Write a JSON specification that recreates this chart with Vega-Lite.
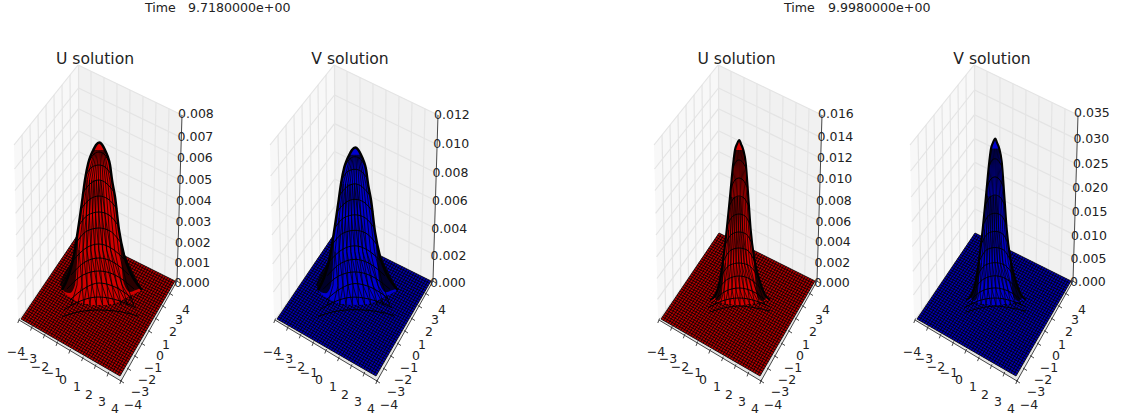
{"$schema":"https://vega.github.io/schema/vega-lite/v6.json","padding":0,"background":"white","bounds":"flush","spacing":0,"config":{"view":{"stroke":null},"text":{"font":"DejaVu Sans","fill":"#222"}},
"datasets":{
"box":[{"p":"a","h":14,"top":145,"bot":145},{"p":"a","h":18,"top":140,"bot":320},{"p":"a","h":78.5,"top":65,"bot":233},{"p":"b","h":78.5,"top":65,"bot":233},{"p":"b","h":177,"top":112.6,"bot":281},{"p":"b","h":182,"top":115,"bot":115},{"p":"c","h":18,"top":320,"bot":320},{"p":"c","h":79,"top":233,"bot":356},{"p":"c","h":121,"top":253.6,"bot":381},{"p":"c","h":177,"top":281,"bot":281}],
"base":[{"h":21,"top":319,"bot":319},{"h":79,"top":233,"bot":352.4},{"h":120,"top":253.5,"bot":376},{"h":175,"top":281,"bot":281}],
"mesh":[{"h":21,"v":319,"h2":120,"v2":376},{"h":22.45,"v":316.85,"h2":121.38,"v2":373.63},{"h":23.9,"v":314.7,"h2":122.75,"v2":371.25},{"h":25.35,"v":312.55,"h2":124.13,"v2":368.88},{"h":26.8,"v":310.4,"h2":125.5,"v2":366.5},{"h":28.25,"v":308.25,"h2":126.88,"v2":364.13},{"h":29.7,"v":306.1,"h2":128.25,"v2":361.75},{"h":31.15,"v":303.95,"h2":129.63,"v2":359.38},{"h":32.6,"v":301.8,"h2":131,"v2":357},{"h":34.05,"v":299.65,"h2":132.38,"v2":354.63},{"h":35.5,"v":297.5,"h2":133.75,"v2":352.25},{"h":36.95,"v":295.35,"h2":135.13,"v2":349.88},{"h":38.4,"v":293.2,"h2":136.5,"v2":347.5},{"h":39.85,"v":291.05,"h2":137.88,"v2":345.13},{"h":41.3,"v":288.9,"h2":139.25,"v2":342.75},{"h":42.75,"v":286.75,"h2":140.63,"v2":340.38},{"h":44.2,"v":284.6,"h2":142,"v2":338},{"h":45.65,"v":282.45,"h2":143.38,"v2":335.63},{"h":47.1,"v":280.3,"h2":144.75,"v2":333.25},{"h":48.55,"v":278.15,"h2":146.13,"v2":330.88},{"h":50,"v":276,"h2":147.5,"v2":328.5},{"h":51.45,"v":273.85,"h2":148.88,"v2":326.13},{"h":52.9,"v":271.7,"h2":150.25,"v2":323.75},{"h":54.35,"v":269.55,"h2":151.63,"v2":321.38},{"h":55.8,"v":267.4,"h2":153,"v2":319},{"h":57.25,"v":265.25,"h2":154.38,"v2":316.63},{"h":58.7,"v":263.1,"h2":155.75,"v2":314.25},{"h":60.15,"v":260.95,"h2":157.13,"v2":311.88},{"h":61.6,"v":258.8,"h2":158.5,"v2":309.5},{"h":63.05,"v":256.65,"h2":159.88,"v2":307.13},{"h":64.5,"v":254.5,"h2":161.25,"v2":304.75},{"h":65.95,"v":252.35,"h2":162.63,"v2":302.38},{"h":67.4,"v":250.2,"h2":164,"v2":300},{"h":68.85,"v":248.05,"h2":165.38,"v2":297.63},{"h":70.3,"v":245.9,"h2":166.75,"v2":295.25},{"h":71.75,"v":243.75,"h2":168.13,"v2":292.88},{"h":73.2,"v":241.6,"h2":169.5,"v2":290.5},{"h":74.65,"v":239.45,"h2":170.88,"v2":288.13},{"h":76.1,"v":237.3,"h2":172.25,"v2":285.75},{"h":77.55,"v":235.15,"h2":173.63,"v2":283.38},{"h":79,"v":233,"h2":175,"v2":281},
{"h":21,"v":319,"h2":79,"v2":233},{"h":23.48,"v":320.43,"h2":81.4,"v2":234.2},{"h":25.95,"v":321.85,"h2":83.8,"v2":235.4},{"h":28.43,"v":323.28,"h2":86.2,"v2":236.6},{"h":30.9,"v":324.7,"h2":88.6,"v2":237.8},{"h":33.38,"v":326.13,"h2":91,"v2":239},{"h":35.85,"v":327.55,"h2":93.4,"v2":240.2},{"h":38.33,"v":328.98,"h2":95.8,"v2":241.4},{"h":40.8,"v":330.4,"h2":98.2,"v2":242.6},{"h":43.28,"v":331.83,"h2":100.6,"v2":243.8},{"h":45.75,"v":333.25,"h2":103,"v2":245},{"h":48.23,"v":334.68,"h2":105.4,"v2":246.2},{"h":50.7,"v":336.1,"h2":107.8,"v2":247.4},{"h":53.18,"v":337.53,"h2":110.2,"v2":248.6},{"h":55.65,"v":338.95,"h2":112.6,"v2":249.8},{"h":58.13,"v":340.38,"h2":115,"v2":251},{"h":60.6,"v":341.8,"h2":117.4,"v2":252.2},{"h":63.08,"v":343.23,"h2":119.8,"v2":253.4},{"h":65.55,"v":344.65,"h2":122.2,"v2":254.6},{"h":68.03,"v":346.08,"h2":124.6,"v2":255.8},{"h":70.5,"v":347.5,"h2":127,"v2":257},{"h":72.98,"v":348.93,"h2":129.4,"v2":258.2},{"h":75.45,"v":350.35,"h2":131.8,"v2":259.4},{"h":77.93,"v":351.78,"h2":134.2,"v2":260.6},{"h":80.4,"v":353.2,"h2":136.6,"v2":261.8},{"h":82.88,"v":354.63,"h2":139,"v2":263},{"h":85.35,"v":356.05,"h2":141.4,"v2":264.2},{"h":87.83,"v":357.48,"h2":143.8,"v2":265.4},{"h":90.3,"v":358.9,"h2":146.2,"v2":266.6},{"h":92.78,"v":360.33,"h2":148.6,"v2":267.8},{"h":95.25,"v":361.75,"h2":151,"v2":269},{"h":97.73,"v":363.18,"h2":153.4,"v2":270.2},{"h":100.2,"v":364.6,"h2":155.8,"v2":271.4},{"h":102.68,"v":366.03,"h2":158.2,"v2":272.6},{"h":105.15,"v":367.45,"h2":160.6,"v2":273.8},{"h":107.63,"v":368.88,"h2":163,"v2":275},{"h":110.1,"v":370.3,"h2":165.4,"v2":276.2},{"h":112.58,"v":371.73,"h2":167.8,"v2":277.4},{"h":115.05,"v":373.15,"h2":170.2,"v2":278.6},{"h":117.53,"v":374.58,"h2":172.6,"v2":279.8},{"h":120,"v":376,"h2":175,"v2":281}],
"wall":[{"h":78.5,"v":65,"h2":79,"v2":233},{"h":91.25,"v":239,"h2":91,"v2":71.25},{"h":103.5,"v":245,"h2":104,"v2":77.5},{"h":115.75,"v":251,"h2":117,"v2":83.75},{"h":128,"v":257,"h2":130,"v2":90},{"h":140.25,"v":263,"h2":143,"v2":96.25},{"h":152.5,"v":269,"h2":156,"v2":102.5},{"h":164.75,"v":275,"h2":169,"v2":108.75},{"h":25.6,"v":309.1,"h2":22,"v2":135},{"h":33.25,"v":298.25,"h2":30,"v2":125},{"h":40.9,"v":287.4,"h2":38,"v2":115},{"h":48.5,"v":276.5,"h2":46,"v2":105},{"h":56.1,"v":265.6,"h2":54,"v2":95},{"h":63.75,"v":254.75,"h2":62,"v2":85},{"h":71.4,"v":243.9,"h2":70,"v2":75}],
"axes":[{"h":19,"v":320,"h2":121,"v2":381},{"h":121,"v":381,"h2":177,"v2":281},{"h":177,"v":281,"h2":182,"v2":115},{"h":19.5,"v":318.5,"h2":17.8,"v2":323},{"h":32.25,"v":326.1,"h2":30.55,"v2":330.6},{"h":45,"v":333.8,"h2":43.3,"v2":338.3},{"h":57.75,"v":341.4,"h2":56.05,"v2":345.9},{"h":70.5,"v":349,"h2":68.8,"v2":353.5},{"h":83.25,"v":356.6,"h2":81.55,"v2":361.1},{"h":96,"v":364.3,"h2":94.3,"v2":368.8},{"h":108.75,"v":371.9,"h2":107.05,"v2":376.4},{"h":121.5,"v":379.5,"h2":119.8,"v2":384},{"h":120,"v":380.5,"h2":124,"v2":383},{"h":127,"v":368,"h2":131,"v2":370.5},{"h":134,"v":355.5,"h2":138,"v2":358},{"h":141,"v":343,"h2":145,"v2":345.5},{"h":148,"v":330.5,"h2":152,"v2":333},{"h":155,"v":318,"h2":159,"v2":320.5},{"h":162,"v":305.5,"h2":166,"v2":308},{"h":169,"v":293,"h2":173,"v2":295.5},{"h":176,"v":280.5,"h2":180,"v2":283}],
"xy":[{"t":"−4","h":16,"v":352},{"t":"−3","h":28,"v":359},{"t":"−2","h":40,"v":367},{"t":"−1","h":53,"v":373},{"t":"0","h":63,"v":380},{"t":"1","h":77,"v":387},{"t":"2","h":89,"v":395},{"t":"3","h":102,"v":402},{"t":"4","h":115,"v":409},{"t":"−4","h":133,"v":405},{"t":"−3","h":140,"v":392},{"t":"−2","h":147,"v":380},{"t":"−1","h":153,"v":368},{"t":"0","h":160,"v":356},{"t":"1","h":166,"v":345},{"t":"2","h":173,"v":332},{"t":"3","h":179,"v":320},{"t":"4","h":186,"v":310}],
"zgA":[{"h":14,"v":145,"h2":78,"v2":65},{"h":78,"v":65,"h2":182,"v2":115},{"h":14.5,"v":169,"h2":78.5,"v2":88},{"h":78.5,"v":88,"h2":181.3,"v2":137.6},{"h":15,"v":190.5,"h2":78.5,"v2":108.7},{"h":78.5,"v":108.7,"h2":180.7,"v2":158.2},{"h":15.6,"v":213.4,"h2":78.5,"v2":130.7},{"h":78.5,"v":130.7,"h2":180,"v2":180},{"h":16,"v":235,"h2":78.5,"v2":151.5},{"h":78.5,"v":151.5,"h2":179.4,"v2":200.5},{"h":16.6,"v":256.8,"h2":78.7,"v2":172.4},{"h":78.7,"v":172.4,"h2":178.8,"v2":221},{"h":17,"v":278.5,"h2":78.8,"v2":193.2},{"h":78.8,"v":193.2,"h2":178.2,"v2":241.7},{"h":17.5,"v":299.4,"h2":79,"v2":213},{"h":79,"v":213,"h2":177.6,"v2":261.4}],
"zgB":[{"h":14,"v":145,"h2":78,"v2":65},{"h":78,"v":65,"h2":182,"v2":115},{"h":14.7,"v":176,"h2":78.5,"v2":95},{"h":78.5,"v":95,"h2":181,"v2":144.5},{"h":15.4,"v":206,"h2":78.5,"v2":123.6},{"h":78.5,"v":123.6,"h2":180.3,"v2":173},{"h":16,"v":235,"h2":78.5,"v2":151.5},{"h":78.5,"v":151.5,"h2":179.4,"v2":200.5},{"h":16.7,"v":264,"h2":78.7,"v2":179},{"h":78.7,"v":179,"h2":178.6,"v2":228},{"h":17.4,"v":292,"h2":79,"v2":206},{"h":79,"v":206,"h2":177.8,"v2":254.4}],
"zgD":[{"h":14,"v":145,"h2":78,"v2":65},{"h":78,"v":65,"h2":182,"v2":115},{"h":14.6,"v":171,"h2":78.5,"v2":90},{"h":78.5,"v":90,"h2":181.3,"v2":139.6},{"h":15.2,"v":197,"h2":78.5,"v2":114.7},{"h":78.5,"v":114.7,"h2":180.5,"v2":164},{"h":15.8,"v":221.6,"h2":78.5,"v2":138.6},{"h":78.5,"v":138.6,"h2":179.8,"v2":187.7},{"h":16.3,"v":246.5,"h2":78.7,"v2":162.4},{"h":78.7,"v":162.4,"h2":179,"v2":211.3},{"h":16.9,"v":271.4,"h2":78.7,"v2":186.3},{"h":78.7,"v":186.3,"h2":178.4,"v2":234.9},{"h":17.4,"v":295,"h2":79,"v2":209},{"h":79,"v":209,"h2":177.7,"v2":257.4}],
"silA":[{"h":62,"top":290,"bot":290},{"h":68,"top":277,"bot":296},{"h":73,"top":260,"bot":299},{"h":78,"top":230,"bot":302},{"h":82.7,"top":197,"bot":303},{"h":85,"top":180,"bot":304},{"h":88.3,"top":163,"bot":304},{"h":91,"top":155,"bot":305},{"h":93.3,"top":150,"bot":305},{"h":96,"top":145,"bot":305},{"h":99.3,"top":142.5,"bot":305},{"h":102,"top":144.5,"bot":305},{"h":105,"top":150,"bot":305},{"h":107.5,"top":156,"bot":305},{"h":110,"top":165,"bot":304},{"h":112,"top":180,"bot":304},{"h":115,"top":197,"bot":303},{"h":119,"top":230,"bot":302},{"h":124,"top":255,"bot":299},{"h":130,"top":272,"bot":296},{"h":138,"top":285,"bot":292},{"h":142,"top":290,"bot":290}],
"silC":[{"h":70,"top":300,"bot":300},{"h":75,"top":296,"bot":301},{"h":80,"top":280,"bot":302},{"h":82.7,"top":263,"bot":303},{"h":86.7,"top":230,"bot":304},{"h":90,"top":197,"bot":304},{"h":93.3,"top":163,"bot":305},{"h":95,"top":150,"bot":305},{"h":97,"top":144,"bot":305},{"h":99.3,"top":140,"bot":305},{"h":101,"top":144,"bot":305},{"h":103.3,"top":150,"bot":305},{"h":105.7,"top":163,"bot":305},{"h":108.3,"top":197,"bot":304},{"h":110.7,"top":230,"bot":304},{"h":115,"top":263,"bot":303},{"h":119.3,"top":280,"bot":302},{"h":125,"top":295,"bot":301},{"h":130,"top":300,"bot":300}],
"fanA":[{"id":1,"h":94.5,"v":150},{"id":1,"h":87.2,"v":180},{"id":1,"h":83.1,"v":215},{"id":1,"h":79,"v":250},{"id":1,"h":77,"v":285},{"id":1,"h":71.2,"v":305},{"id":2,"h":95.4,"v":150},{"id":2,"h":89.5,"v":180},{"id":2,"h":86.3,"v":215},{"id":2,"h":83,"v":250},{"id":2,"h":82,"v":285},{"id":2,"h":77.5,"v":305},{"id":3,"h":96.4,"v":150},{"id":3,"h":91.8,"v":180},{"id":3,"h":89.4,"v":215},{"id":3,"h":86.9,"v":250},{"id":3,"h":87,"v":285},{"id":3,"h":83.8,"v":305},{"id":4,"h":97.3,"v":150},{"id":4,"h":94,"v":180},{"id":4,"h":92.5,"v":215},{"id":4,"h":90.8,"v":250},{"id":4,"h":92,"v":285},{"id":4,"h":90,"v":305},{"id":5,"h":98.3,"v":150},{"id":5,"h":96.3,"v":180},{"id":5,"h":95.6,"v":215},{"id":5,"h":94.8,"v":250},{"id":5,"h":97,"v":285},{"id":5,"h":96.3,"v":305},{"id":6,"h":99.3,"v":150},{"id":6,"h":98.5,"v":180},{"id":6,"h":98.8,"v":215},{"id":6,"h":98.8,"v":250},{"id":6,"h":102,"v":285},{"id":6,"h":102.5,"v":305},{"id":7,"h":100.2,"v":150},{"id":7,"h":100.7,"v":180},{"id":7,"h":101.9,"v":215},{"id":7,"h":102.7,"v":250},{"id":7,"h":107,"v":285},{"id":7,"h":108.7,"v":305},{"id":8,"h":101.2,"v":150},{"id":8,"h":103,"v":180},{"id":8,"h":105,"v":215},{"id":8,"h":106.7,"v":250},{"id":8,"h":112,"v":285},{"id":8,"h":115,"v":305},{"id":9,"h":102.1,"v":150},{"id":9,"h":105.3,"v":180},{"id":9,"h":108.1,"v":215},{"id":9,"h":110.6,"v":250},{"id":9,"h":117,"v":285},{"id":9,"h":121.3,"v":305},{"id":10,"h":103.1,"v":150},{"id":10,"h":107.5,"v":180},{"id":10,"h":111.2,"v":215},{"id":10,"h":114.6,"v":250},{"id":10,"h":122,"v":285},{"id":10,"h":127.5,"v":305},{"id":11,"h":104,"v":150},{"id":11,"h":109.8,"v":180},{"id":11,"h":114.4,"v":215},{"id":11,"h":118.5,"v":250},{"id":11,"h":127,"v":285},{"id":11,"h":133.8,"v":305},
{"id":21,"h":83.1,"v":215},{"id":21,"h":83,"v":250},{"id":21,"h":87,"v":285},{"id":21,"h":90,"v":305},{"id":22,"h":87.2,"v":180},{"id":22,"h":86.3,"v":215},{"id":22,"h":86.9,"v":250},{"id":22,"h":92,"v":285},{"id":22,"h":96.3,"v":305},{"id":23,"h":89.5,"v":180},{"id":23,"h":89.4,"v":215},{"id":23,"h":90.8,"v":250},{"id":23,"h":97,"v":285},{"id":23,"h":102.5,"v":305},{"id":24,"h":91.8,"v":180},{"id":24,"h":92.5,"v":215},{"id":24,"h":94.8,"v":250},{"id":24,"h":102,"v":285},{"id":24,"h":108.7,"v":305},{"id":25,"h":94,"v":180},{"id":25,"h":95.6,"v":215},{"id":25,"h":98.8,"v":250},{"id":25,"h":107,"v":285},{"id":25,"h":115,"v":305},{"id":26,"h":96.3,"v":180},{"id":26,"h":98.8,"v":215},{"id":26,"h":102.7,"v":250},{"id":26,"h":112,"v":285},{"id":26,"h":121.3,"v":305},{"id":27,"h":98.5,"v":180},{"id":27,"h":101.9,"v":215},{"id":27,"h":106.7,"v":250},{"id":27,"h":117,"v":285},{"id":27,"h":127.5,"v":305},{"id":28,"h":100.7,"v":180},{"id":28,"h":105,"v":215},{"id":28,"h":110.6,"v":250},{"id":28,"h":122,"v":285},{"id":28,"h":133.8,"v":305},{"id":29,"h":79,"v":250},{"id":29,"h":82,"v":285},{"id":29,"h":83.8,"v":305}],
"fanC":[{"id":1,"h":95.7,"v":150},{"id":1,"h":91.5,"v":197},{"id":1,"h":88.7,"v":230},{"id":1,"h":85.4,"v":263},{"id":1,"h":80,"v":290},{"id":1,"h":75,"v":305},{"id":2,"h":96.4,"v":150},{"id":2,"h":93.1,"v":197},{"id":2,"h":90.7,"v":230},{"id":2,"h":88.1,"v":263},{"id":2,"h":84,"v":290},{"id":2,"h":80,"v":305},{"id":3,"h":97.1,"v":150},{"id":3,"h":94.6,"v":197},{"id":3,"h":92.7,"v":230},{"id":3,"h":90.8,"v":263},{"id":3,"h":88,"v":290},{"id":3,"h":85,"v":305},{"id":4,"h":97.8,"v":150},{"id":4,"h":96.1,"v":197},{"id":4,"h":94.7,"v":230},{"id":4,"h":93.5,"v":263},{"id":4,"h":92,"v":290},{"id":4,"h":90,"v":305},{"id":5,"h":98.5,"v":150},{"id":5,"h":97.6,"v":197},{"id":5,"h":96.7,"v":230},{"id":5,"h":96.2,"v":263},{"id":5,"h":96,"v":290},{"id":5,"h":95,"v":305},{"id":6,"h":99.2,"v":150},{"id":6,"h":99.2,"v":197},{"id":6,"h":98.7,"v":230},{"id":6,"h":98.9,"v":263},{"id":6,"h":100,"v":290},{"id":6,"h":100,"v":305},{"id":7,"h":99.8,"v":150},{"id":7,"h":100.7,"v":197},{"id":7,"h":100.7,"v":230},{"id":7,"h":101.5,"v":263},{"id":7,"h":104,"v":290},{"id":7,"h":105,"v":305},{"id":8,"h":100.5,"v":150},{"id":8,"h":102.2,"v":197},{"id":8,"h":102.7,"v":230},{"id":8,"h":104.2,"v":263},{"id":8,"h":108,"v":290},{"id":8,"h":110,"v":305},{"id":9,"h":101.2,"v":150},{"id":9,"h":103.7,"v":197},{"id":9,"h":104.7,"v":230},{"id":9,"h":106.9,"v":263},{"id":9,"h":112,"v":290},{"id":9,"h":115,"v":305},{"id":10,"h":101.9,"v":150},{"id":10,"h":105.2,"v":197},{"id":10,"h":106.7,"v":230},{"id":10,"h":109.6,"v":263},{"id":10,"h":116,"v":290},{"id":10,"h":120,"v":305},{"id":11,"h":102.6,"v":150},{"id":11,"h":106.8,"v":197},{"id":11,"h":108.7,"v":230},{"id":11,"h":112.3,"v":263},{"id":11,"h":120,"v":290},{"id":11,"h":125,"v":305},
{"id":21,"h":91.5,"v":197},{"id":21,"h":90.7,"v":230},{"id":21,"h":90.8,"v":263},{"id":21,"h":92,"v":290},{"id":21,"h":95,"v":305},{"id":22,"h":93.1,"v":197},{"id":22,"h":92.7,"v":230},{"id":22,"h":93.5,"v":263},{"id":22,"h":96,"v":290},{"id":22,"h":100,"v":305},{"id":23,"h":94.6,"v":197},{"id":23,"h":94.7,"v":230},{"id":23,"h":96.2,"v":263},{"id":23,"h":100,"v":290},{"id":23,"h":105,"v":305},{"id":24,"h":96.1,"v":197},{"id":24,"h":96.7,"v":230},{"id":24,"h":98.9,"v":263},{"id":24,"h":104,"v":290},{"id":24,"h":110,"v":305},{"id":25,"h":97.6,"v":197},{"id":25,"h":98.7,"v":230},{"id":25,"h":101.5,"v":263},{"id":25,"h":108,"v":290},{"id":25,"h":115,"v":305},{"id":26,"h":99.2,"v":197},{"id":26,"h":100.7,"v":230},{"id":26,"h":104.2,"v":263},{"id":26,"h":112,"v":290},{"id":26,"h":120,"v":305},{"id":27,"h":100.7,"v":197},{"id":27,"h":102.7,"v":230},{"id":27,"h":106.9,"v":263},{"id":27,"h":116,"v":290},{"id":27,"h":125,"v":305},{"id":28,"h":88.7,"v":230},{"id":28,"h":88.1,"v":263},{"id":28,"h":88,"v":290},{"id":28,"h":90,"v":305},{"id":29,"h":85.4,"v":263},{"id":29,"h":84,"v":290},{"id":29,"h":85,"v":305}],
"arcA":[{"id":1,"h":90,"v":160},{"id":1,"h":94,"v":154},{"id":1,"h":99,"v":152},{"id":1,"h":104,"v":154},{"id":1,"h":108,"v":160},{"id":2,"h":86,"v":175},{"id":2,"h":92,"v":167},{"id":2,"h":99,"v":165},{"id":2,"h":105,"v":167},{"id":2,"h":111.5,"v":175},{"id":3,"h":83.5,"v":192},{"id":3,"h":91,"v":183},{"id":3,"h":99,"v":180},{"id":3,"h":106,"v":183},{"id":3,"h":114,"v":192},{"id":4,"h":81,"v":209},{"id":4,"h":90,"v":199},{"id":4,"h":99,"v":196},{"id":4,"h":108,"v":199},{"id":4,"h":117,"v":209},{"id":5,"h":78.5,"v":226},{"id":5,"h":88,"v":215},{"id":5,"h":99,"v":212},{"id":5,"h":109,"v":215},{"id":5,"h":118.5,"v":226},{"id":6,"h":76,"v":243},{"id":6,"h":87,"v":231},{"id":6,"h":99,"v":228},{"id":6,"h":110,"v":231},{"id":6,"h":121,"v":243},{"id":7,"h":73.5,"v":260},{"id":7,"h":86,"v":248},{"id":7,"h":99,"v":244},{"id":7,"h":111,"v":248},{"id":7,"h":125,"v":260},{"id":8,"h":71,"v":275},{"id":8,"h":85,"v":262},{"id":8,"h":99,"v":258},{"id":8,"h":113,"v":262},{"id":8,"h":129,"v":275},{"id":9,"h":67,"v":289},{"id":9,"h":83,"v":275},{"id":9,"h":99,"v":271},{"id":9,"h":115,"v":275},{"id":9,"h":134,"v":289},{"id":10,"h":70,"v":300},{"id":10,"h":85,"v":288},{"id":10,"h":99,"v":283},{"id":10,"h":115,"v":287},{"id":10,"h":132,"v":298},{"id":11,"h":64,"v":310},{"id":11,"h":78,"v":302},{"id":11,"h":98,"v":297},{"id":11,"h":120,"v":301},{"id":11,"h":136,"v":308},{"id":12,"h":62,"v":317},{"id":12,"h":78,"v":312},{"id":12,"h":98,"v":310},{"id":12,"h":122,"v":312},{"id":12,"h":138,"v":316}],
"arcC":[{"id":1,"h":93,"v":168},{"id":1,"h":96,"v":161.5},{"id":1,"h":99,"v":160},{"id":1,"h":102,"v":161.5},{"id":1,"h":106,"v":168},{"id":2,"h":91,"v":188},{"id":2,"h":95,"v":180},{"id":2,"h":99,"v":178},{"id":2,"h":103,"v":180},{"id":2,"h":107.5,"v":188},{"id":3,"h":89,"v":207},{"id":3,"h":94,"v":198},{"id":3,"h":99,"v":196},{"id":3,"h":104,"v":198},{"id":3,"h":109,"v":207},{"id":4,"h":87,"v":226},{"id":4,"h":93,"v":216},{"id":4,"h":99,"v":214},{"id":4,"h":105,"v":216},{"id":4,"h":110.5,"v":226},{"id":5,"h":85,"v":245},{"id":5,"h":92,"v":234},{"id":5,"h":99,"v":232},{"id":5,"h":106,"v":234},{"id":5,"h":112.5,"v":245},{"id":6,"h":83,"v":262},{"id":6,"h":91,"v":250},{"id":6,"h":99,"v":248},{"id":6,"h":107,"v":250},{"id":6,"h":115,"v":262},{"id":7,"h":80,"v":278},{"id":7,"h":90,"v":265},{"id":7,"h":99,"v":263},{"id":7,"h":108,"v":265},{"id":7,"h":119,"v":278},{"id":8,"h":76,"v":292},{"id":8,"h":88,"v":279},{"id":8,"h":99,"v":276},{"id":8,"h":110,"v":279},{"id":8,"h":124,"v":292},{"id":9,"h":72,"v":303},{"id":9,"h":86,"v":291},{"id":9,"h":99,"v":288},{"id":9,"h":112,"v":291},{"id":9,"h":128,"v":302},{"id":10,"h":68,"v":308},{"id":10,"h":82,"v":301},{"id":10,"h":99,"v":298},{"id":10,"h":116,"v":301},{"id":10,"h":130,"v":307},{"id":11,"h":70,"v":312},{"id":11,"h":84,"v":308},{"id":11,"h":99,"v":306},{"id":11,"h":116,"v":308},{"id":11,"h":130,"v":311}],
"darkA":[{"id":1,"h":60,"top":284,"bot":284},{"id":1,"h":65,"top":272,"bot":292},{"id":1,"h":70,"top":264,"bot":293},{"id":1,"h":75,"top":250,"bot":285},{"id":1,"h":78,"top":235,"bot":245},{"id":2,"h":120,"top":235,"bot":245},{"id":2,"h":124,"top":252,"bot":284},{"id":2,"h":130,"top":266,"bot":292},{"id":2,"h":136,"top":278,"bot":290},{"id":2,"h":141,"top":288,"bot":288}],
"darkC":[{"id":1,"h":74,"top":296,"bot":296},{"id":1,"h":78,"top":285,"bot":301},{"id":1,"h":81,"top":272,"bot":298},{"id":1,"h":84,"top":255,"bot":265},{"id":2,"h":114,"top":255,"bot":265},{"id":2,"h":118,"top":272,"bot":298},{"id":2,"h":122,"top":285,"bot":301},{"id":2,"h":127,"top":297,"bot":297}]
},
"hconcat":[
{"width":256,"height":419,"resolve":{"scale":{"y":"independent"}},"encoding":{"x":{"field":"h","type":"quantitative","scale":{"domain":[0,256]},"axis":null},"y":{"field":"v","type":"quantitative","scale":{"domain":[419,0]},"axis":null}},"layer":[
{"data":{"name":"box"},"mark":"area","encoding":{"y":{"field":"top","type":"quantitative","scale":{"domain":[419,0]},"axis":null},"y2":{"field":"bot"},"color":{"field":"p","type":"nominal","legend":null,"scale":{"domain":["a","b","c"],"range":["#f8f8f8","#f1f1f1","#e6e6e6"]}}}},
{"data":{"name":"wall"},"mark":{"type":"rule","color":"#e4e4e4","strokeWidth":1.2},"encoding":{"x2":{"field":"h2"},"y2":{"field":"v2"}}},
{"data":{"name":"zgA"},"mark":{"type":"rule","color":"#e4e4e4","strokeWidth":1.2},"encoding":{"x2":{"field":"h2"},"y2":{"field":"v2"}}},
{"data":{"name":"base"},"mark":{"type":"area","color":"#b00000"},"encoding":{"y":{"field":"top","type":"quantitative","scale":{"domain":[419,0]},"axis":null},"y2":{"field":"bot"}}},
{"data":{"name":"mesh"},"mark":{"type":"rule","color":"#000","strokeWidth":0.8},"encoding":{"x2":{"field":"h2"},"y2":{"field":"v2"}}},
{"data":{"name":"axes"},"mark":{"type":"rule","color":"#333","strokeWidth":0.9},"encoding":{"x2":{"field":"h2"},"y2":{"field":"v2"}}},
{"data":{"name":"silA"},"mark":{"type":"area","color":"#d00000","interpolate":"monotone"},"encoding":{"y":{"field":"top","type":"quantitative","scale":{"domain":[419,0]},"axis":null},"y2":{"field":"bot"}}},
{"data":{"name":"fanA"},"mark":{"type":"line","color":"#000","strokeWidth":0.75},"encoding":{"detail":{"field":"id"},"order":{"field":"v"}}},
{"data":{"name":"arcA"},"mark":{"type":"line","color":"#000","strokeWidth":1,"interpolate":"monotone"},"encoding":{"detail":{"field":"id"}}},
{"data":{"name":"silA"},"mark":{"type":"line","color":"#000","strokeWidth":2.5,"interpolate":"monotone"},"encoding":{"y":{"field":"top","type":"quantitative","scale":{"domain":[419,0]},"axis":null}}},
{"data":{"name":"darkA"},"mark":{"type":"area","color":"#000","opacity":0.8,"interpolate":"monotone"},"encoding":{"detail":{"field":"id"},"y":{"field":"top","type":"quantitative","scale":{"domain":[419,0]},"axis":null},"y2":{"field":"bot"}}},
{"data":{"name":"xy"},"mark":{"type":"text","fontSize":12.5,"align":"center","baseline":"middle"},"encoding":{"text":{"field":"t"}}},
{"data":{"values":[{"t":"0.008","h":178,"v":114},{"t":"0.007","h":177.5,"v":137},{"t":"0.006","h":177,"v":158},{"t":"0.005","h":176.5,"v":180},{"t":"0.004","h":176,"v":201},{"t":"0.003","h":175.5,"v":222},{"t":"0.002","h":175,"v":243},{"t":"0.001","h":174.5,"v":263},{"t":"0.000","h":174,"v":283}]},"mark":{"type":"text","fontSize":12.5,"align":"left","baseline":"middle"},"encoding":{"text":{"field":"t"}}},
{"data":{"values":[{"t":"U solution","h":95,"v":59}]},"mark":{"type":"text","fontSize":15.6,"align":"center","baseline":"middle"},"encoding":{"text":{"field":"t"}}},
{"data":{"values":[{"t":"Time","h":145,"v":8},{"t":"9.7180000e+00","h":188,"v":8}]},"mark":{"type":"text","fontSize":12.6,"align":"left","baseline":"middle"},"encoding":{"text":{"field":"t"}}}
]},
{"width":384,"height":419,"resolve":{"scale":{"y":"independent"}},"encoding":{"x":{"field":"h","type":"quantitative","scale":{"domain":[0,384]},"axis":null},"y":{"field":"v","type":"quantitative","scale":{"domain":[419,0]},"axis":null}},"layer":[
{"data":{"name":"box"},"mark":"area","encoding":{"y":{"field":"top","type":"quantitative","scale":{"domain":[419,0]},"axis":null},"y2":{"field":"bot"},"color":{"field":"p","type":"nominal","legend":null,"scale":{"domain":["a","b","c"],"range":["#f8f8f8","#f1f1f1","#e6e6e6"]}}}},
{"data":{"name":"wall"},"mark":{"type":"rule","color":"#e4e4e4","strokeWidth":1.2},"encoding":{"x2":{"field":"h2"},"y2":{"field":"v2"}}},
{"data":{"name":"zgB"},"mark":{"type":"rule","color":"#e4e4e4","strokeWidth":1.2},"encoding":{"x2":{"field":"h2"},"y2":{"field":"v2"}}},
{"data":{"name":"base"},"mark":{"type":"area","color":"#0000b0"},"encoding":{"y":{"field":"top","type":"quantitative","scale":{"domain":[419,0]},"axis":null},"y2":{"field":"bot"}}},
{"data":{"name":"mesh"},"mark":{"type":"rule","color":"#000","strokeWidth":0.8},"encoding":{"x2":{"field":"h2"},"y2":{"field":"v2"}}},
{"data":{"name":"axes"},"mark":{"type":"rule","color":"#333","strokeWidth":0.9},"encoding":{"x2":{"field":"h2"},"y2":{"field":"v2"}}},
{"data":{"name":"silA"},"mark":{"type":"area","color":"#0000d0","interpolate":"monotone"},"encoding":{"y":{"field":"top","type":"quantitative","scale":{"domain":[422.9,-9.9]},"axis":null},"y2":{"field":"bot"}}},
{"data":{"name":"fanA"},"mark":{"type":"line","color":"#000","strokeWidth":0.75},"encoding":{"y":{"field":"v","type":"quantitative","scale":{"domain":[422.9,-9.9]},"axis":null},"detail":{"field":"id"},"order":{"field":"v"}}},
{"data":{"name":"arcA"},"mark":{"type":"line","color":"#000","strokeWidth":1,"interpolate":"monotone"},"encoding":{"y":{"field":"v","type":"quantitative","scale":{"domain":[422.9,-9.9]},"axis":null},"detail":{"field":"id"}}},
{"data":{"name":"silA"},"mark":{"type":"line","color":"#000","strokeWidth":2.5,"interpolate":"monotone"},"encoding":{"y":{"field":"top","type":"quantitative","scale":{"domain":[422.9,-9.9]},"axis":null}}},
{"data":{"name":"darkA"},"mark":{"type":"area","color":"#000","opacity":0.8,"interpolate":"monotone"},"encoding":{"detail":{"field":"id"},"y":{"field":"top","type":"quantitative","scale":{"domain":[422.9,-9.9]},"axis":null},"y2":{"field":"bot"}}},
{"data":{"name":"xy"},"mark":{"type":"text","fontSize":12.5,"align":"center","baseline":"middle"},"encoding":{"text":{"field":"t"}}},
{"data":{"values":[{"t":"0.012","h":178,"v":115},{"t":"0.010","h":177.3,"v":144},{"t":"0.008","h":176.6,"v":173},{"t":"0.006","h":176,"v":201},{"t":"0.004","h":175.3,"v":229},{"t":"0.002","h":174.6,"v":256},{"t":"0.000","h":174,"v":283}]},"mark":{"type":"text","fontSize":12.5,"align":"left","baseline":"middle"},"encoding":{"text":{"field":"t"}}},
{"data":{"values":[{"t":"V solution","h":94,"v":59}]},"mark":{"type":"text","fontSize":15.6,"align":"center","baseline":"middle"},"encoding":{"text":{"field":"t"}}}
]},
{"width":256,"height":419,"resolve":{"scale":{"y":"independent"}},"encoding":{"x":{"field":"h","type":"quantitative","scale":{"domain":[0,256]},"axis":null},"y":{"field":"v","type":"quantitative","scale":{"domain":[419,0]},"axis":null}},"layer":[
{"data":{"name":"box"},"mark":"area","encoding":{"y":{"field":"top","type":"quantitative","scale":{"domain":[419,0]},"axis":null},"y2":{"field":"bot"},"color":{"field":"p","type":"nominal","legend":null,"scale":{"domain":["a","b","c"],"range":["#f8f8f8","#f1f1f1","#e6e6e6"]}}}},
{"data":{"name":"wall"},"mark":{"type":"rule","color":"#e4e4e4","strokeWidth":1.2},"encoding":{"x2":{"field":"h2"},"y2":{"field":"v2"}}},
{"data":{"name":"zgA"},"mark":{"type":"rule","color":"#e4e4e4","strokeWidth":1.2},"encoding":{"x2":{"field":"h2"},"y2":{"field":"v2"}}},
{"data":{"name":"base"},"mark":{"type":"area","color":"#b00000"},"encoding":{"y":{"field":"top","type":"quantitative","scale":{"domain":[419,0]},"axis":null},"y2":{"field":"bot"}}},
{"data":{"name":"mesh"},"mark":{"type":"rule","color":"#000","strokeWidth":0.8},"encoding":{"x2":{"field":"h2"},"y2":{"field":"v2"}}},
{"data":{"name":"axes"},"mark":{"type":"rule","color":"#333","strokeWidth":0.9},"encoding":{"x2":{"field":"h2"},"y2":{"field":"v2"}}},
{"data":{"name":"silC"},"mark":{"type":"area","color":"#d00000","interpolate":"monotone"},"encoding":{"y":{"field":"top","type":"quantitative","scale":{"domain":[419,0]},"axis":null},"y2":{"field":"bot"}}},
{"data":{"name":"fanC"},"mark":{"type":"line","color":"#000","strokeWidth":0.7},"encoding":{"detail":{"field":"id"},"order":{"field":"v"}}},
{"data":{"name":"arcC"},"mark":{"type":"line","color":"#000","strokeWidth":1,"interpolate":"monotone"},"encoding":{"detail":{"field":"id"}}},
{"data":{"name":"silC"},"mark":{"type":"line","color":"#000","strokeWidth":2.2,"interpolate":"monotone"},"encoding":{"y":{"field":"top","type":"quantitative","scale":{"domain":[419,0]},"axis":null}}},
{"data":{"name":"darkC"},"mark":{"type":"area","color":"#000","opacity":0.8,"interpolate":"monotone"},"encoding":{"detail":{"field":"id"},"y":{"field":"top","type":"quantitative","scale":{"domain":[419,0]},"axis":null},"y2":{"field":"bot"}}},
{"data":{"name":"xy"},"mark":{"type":"text","fontSize":12.5,"align":"center","baseline":"middle"},"encoding":{"text":{"field":"t"}}},
{"data":{"values":[{"t":"0.016","h":178,"v":114},{"t":"0.014","h":177.5,"v":137},{"t":"0.012","h":177,"v":158},{"t":"0.010","h":176.5,"v":179},{"t":"0.008","h":176,"v":201},{"t":"0.006","h":175.5,"v":222},{"t":"0.004","h":175,"v":242},{"t":"0.002","h":174.5,"v":263},{"t":"0.000","h":174,"v":283}]},"mark":{"type":"text","fontSize":12.5,"align":"left","baseline":"middle"},"encoding":{"text":{"field":"t"}}},
{"data":{"values":[{"t":"U solution","h":96.5,"v":59}]},"mark":{"type":"text","fontSize":15.6,"align":"center","baseline":"middle"},"encoding":{"text":{"field":"t"}}},
{"data":{"values":[{"t":"Time","h":144,"v":8},{"t":"9.9980000e+00","h":188,"v":8}]},"mark":{"type":"text","fontSize":12.6,"align":"left","baseline":"middle"},"encoding":{"text":{"field":"t"}}}
]},
{"width":229,"height":419,"resolve":{"scale":{"y":"independent"}},"encoding":{"x":{"field":"h","type":"quantitative","scale":{"domain":[0,229]},"axis":null},"y":{"field":"v","type":"quantitative","scale":{"domain":[419,0]},"axis":null}},"layer":[
{"data":{"name":"box"},"mark":"area","encoding":{"y":{"field":"top","type":"quantitative","scale":{"domain":[419,0]},"axis":null},"y2":{"field":"bot"},"color":{"field":"p","type":"nominal","legend":null,"scale":{"domain":["a","b","c"],"range":["#f8f8f8","#f1f1f1","#e6e6e6"]}}}},
{"data":{"name":"wall"},"mark":{"type":"rule","color":"#e4e4e4","strokeWidth":1.2},"encoding":{"x2":{"field":"h2"},"y2":{"field":"v2"}}},
{"data":{"name":"zgD"},"mark":{"type":"rule","color":"#e4e4e4","strokeWidth":1.2},"encoding":{"x2":{"field":"h2"},"y2":{"field":"v2"}}},
{"data":{"name":"base"},"mark":{"type":"area","color":"#0000b0"},"encoding":{"y":{"field":"top","type":"quantitative","scale":{"domain":[419,0]},"axis":null},"y2":{"field":"bot"}}},
{"data":{"name":"mesh"},"mark":{"type":"rule","color":"#000","strokeWidth":0.8},"encoding":{"x2":{"field":"h2"},"y2":{"field":"v2"}}},
{"data":{"name":"axes"},"mark":{"type":"rule","color":"#333","strokeWidth":0.9},"encoding":{"x2":{"field":"h2"},"y2":{"field":"v2"}}},
{"data":{"name":"silC"},"mark":{"type":"area","color":"#0000d0","interpolate":"monotone"},"encoding":{"y":{"field":"top","type":"quantitative","scale":{"domain":[417.9,2.7]},"axis":null},"y2":{"field":"bot"}}},
{"data":{"name":"fanC"},"mark":{"type":"line","color":"#000","strokeWidth":0.7},"encoding":{"y":{"field":"v","type":"quantitative","scale":{"domain":[417.9,2.7]},"axis":null},"detail":{"field":"id"},"order":{"field":"v"}}},
{"data":{"name":"arcC"},"mark":{"type":"line","color":"#000","strokeWidth":1,"interpolate":"monotone"},"encoding":{"y":{"field":"v","type":"quantitative","scale":{"domain":[417.9,2.7]},"axis":null},"detail":{"field":"id"}}},
{"data":{"name":"silC"},"mark":{"type":"line","color":"#000","strokeWidth":2.2,"interpolate":"monotone"},"encoding":{"y":{"field":"top","type":"quantitative","scale":{"domain":[417.9,2.7]},"axis":null}}},
{"data":{"name":"darkC"},"mark":{"type":"area","color":"#000","opacity":0.8,"interpolate":"monotone"},"encoding":{"detail":{"field":"id"},"y":{"field":"top","type":"quantitative","scale":{"domain":[417.9,2.7]},"axis":null},"y2":{"field":"bot"}}},
{"data":{"name":"xy"},"mark":{"type":"text","fontSize":12.5,"align":"center","baseline":"middle"},"encoding":{"text":{"field":"t"}}},
{"data":{"values":[{"t":"0.035","h":178,"v":113},{"t":"0.030","h":177.4,"v":139},{"t":"0.025","h":176.9,"v":164},{"t":"0.020","h":176.3,"v":188},{"t":"0.015","h":175.7,"v":212},{"t":"0.010","h":175.1,"v":236},{"t":"0.005","h":174.6,"v":259},{"t":"0.000","h":174,"v":282}]},"mark":{"type":"text","fontSize":12.5,"align":"left","baseline":"middle"},"encoding":{"text":{"field":"t"}}},
{"data":{"values":[{"t":"V solution","h":96,"v":59}]},"mark":{"type":"text","fontSize":15.6,"align":"center","baseline":"middle"},"encoding":{"text":{"field":"t"}}}
]}
]}
